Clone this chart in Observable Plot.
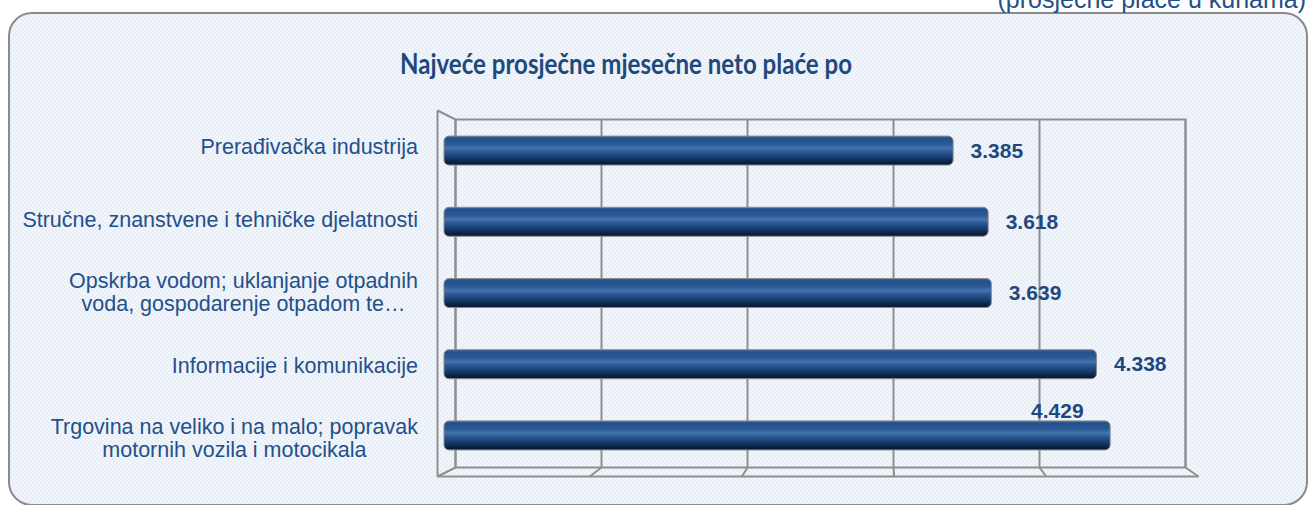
<!DOCTYPE html>
<html>
<head>
<meta charset="utf-8">
<script src="https://cdn.jsdelivr.net/npm/d3@7"></script>
<script src="https://cdn.jsdelivr.net/npm/@observablehq/plot@0.6"></script>
<style>
  html, body { margin: 0; padding: 0; background: #ffffff; }
  #wrap { position: relative; width: 1308px; height: 505px; overflow: hidden; font-family: "Liberation Sans", Arial, sans-serif; }
  #panel { position: absolute; left: 8px; top: 12px; width: 1300px; height: 494px; box-sizing: border-box;
           border: 2px solid #8a8a8a; border-radius: 24px; background-color: #eef3fa;
           background-image: repeating-conic-gradient(#e8eef7 0 25%, #f2f6fb 0 50%); background-size: 4px 4px; }
  #unit { position: absolute; right: 2px; top: -13px; font-size: 25px; line-height: 25px; color: #24508a; white-space: nowrap; }
  #title { position: absolute; left: 0; width: 1252px; top: 45px; text-align: center; font: bold 29px/36px Lato, "Open Sans", sans-serif; color: #1f497d; white-space: nowrap; transform: scaleX(0.83); transform-origin: 626px 50%; }
  #wrap svg { position: absolute; left: 0; top: 0; }
  .cat { position: absolute; right: 890px; text-align: center; font-size: 21.5px; line-height: 23px; color: #24508a; white-space: pre; transform: translateY(-50%); }
</style>
</head>
<body>
<div id="wrap">
  <div id="panel"></div>
  <div id="unit">(prosječne plaće u kunama)</div>
  <div id="title">Najveće prosječne mjesečne neto plaće po</div>
</div>
<script>
// ---- data ----
const categories = [
  "Prerađivačka industrija",
  "Stručne, znanstvene i tehničke djelatnosti",
  "Opskrba vodom; uklanjanje otpadnih\nvoda, gospodarenje otpadom te…",
  "Informacije i komunikacije",
  "Trgovina na veliko i na malo; popravak\nmotornih vozila i motocikala"
];
const values = [3385, 3618, 3639, 4338, 4429];
const valueLabels = ["3.385", "3.618", "3.639", "4.338", "4.429"];
const xTicks = [0, 1000, 2000, 3000, 4000, 5000];

const data = categories.map((c, i) => ({cat: c, value: values[i], label: valueLabels[i], i}));

// ---- layout ----
const W = 1308, H = 505;
const back = {left: 455, right: 1185, top: 119, bottom: 467};   // back wall of 3D box
const front = {left: 437, right: 1198, top: 110, bottom: 476};  // front plane of 3D box
const barPlane = {left: 444, right: 1196, top: 115, bottom: 471};
const gridColor = "#8e8e8e";
const textBlue = "#1f497d";

const wrap = document.getElementById("wrap");

// ---- 3D box (back wall grid + front edges) ----
const xBack = Plot.scale({x: {domain: [0, 5000], range: [back.left, back.right]}});
const xFront = Plot.scale({x: {domain: [0, 5000], range: [front.left, front.right]}});
const yBack = Plot.scale({y: {domain: [0, 1], range: [back.bottom, back.top]}});
const toBack = v => xBack.invert(xFront.apply(v));
const yFB = yBack.invert(front.bottom), yFT = yBack.invert(front.top);

const slants = xTicks.map(v => ({x1: v, y1: 0, x2: toBack(v), y2: yFB}));
const edges = [
  {x1: toBack(0), y1: yFB, x2: toBack(5000), y2: yFB},
  {x1: toBack(0), y1: yFB, x2: toBack(0), y2: yFT},
  {x1: toBack(0), y1: yFT, x2: 0, y2: 1}
];

const boxPlot = Plot.plot({
  width: W, height: H,
  marginLeft: back.left, marginRight: W - back.right,
  marginTop: back.top, marginBottom: H - back.bottom,
  style: {background: "transparent", overflow: "visible"},
  x: {domain: [0, 5000], axis: null},
  y: {domain: [0, 1], axis: null},
  marks: [
    Plot.ruleX(xTicks, {stroke: gridColor, strokeWidth: 2}),
    Plot.frame({stroke: gridColor, strokeWidth: 2}),
    Plot.link(slants, {x1: "x1", y1: "y1", x2: "x2", y2: "y2", stroke: gridColor, strokeWidth: 2}),
    Plot.link(edges, {x1: "x1", y1: "y1", x2: "x2", y2: "y2", stroke: gridColor, strokeWidth: 2})
  ]
});
wrap.appendChild(boxPlot);

// ---- bars ----
function gradientDefs() {
  const defs = d3.create("svg:defs");
  const g = defs.append("linearGradient").attr("id", "barGrad")
    .attr("x1", 0).attr("y1", 0).attr("x2", 0).attr("y2", 1);
  [[0, "#3a67a3"], [0.08, "#22508b"], [0.28, "#2b5a97"], [0.42, "#4473b0"], [0.53, "#2c5a96"],
   [0.75, "#163a6b"], [0.92, "#0b1f3e"], [1, "#08172f"]]
    .forEach(([o, c]) => g.append("stop").attr("offset", o).attr("stop-color", c));
  return defs.node();
}

const barPlot = Plot.plot({
  width: W, height: H,
  marginLeft: barPlane.left, marginRight: W - barPlane.right,
  marginTop: barPlane.top, marginBottom: H - barPlane.bottom,
  style: {background: "transparent", overflow: "visible"},
  x: {domain: [0, 5000], axis: null},
  y: {domain: categories, axis: null, paddingInner: 0.593, paddingOuter: 0.296, round: false},
  marks: [
    gradientDefs,
    Plot.barX(data, {x: "value", y: "cat", fill: "url(#barGrad)", stroke: "#8a8a8a", strokeWidth: 1, rx: 5}),
    Plot.text(data.filter(d => d.i < 4), {x: "value", y: "cat", text: "label", textAnchor: "start", dx: 17,
      fontSize: 21, fontWeight: "bold", fill: textBlue, fontFamily: "Liberation Sans, Arial, sans-serif"}),
    Plot.text(data.filter(d => d.i === 4), {x: "value", y: "cat", text: "label", textAnchor: "end", dx: -27, dy: -25,
      fontSize: 21, fontWeight: "bold", fill: textBlue, fontFamily: "Liberation Sans, Arial, sans-serif"})
  ]
});
wrap.appendChild(barPlot);

// ---- category labels (front plane of the 3D box) ----
const yLabel = Plot.scale({y: {type: "band", domain: categories, range: [front.top, front.bottom],
  paddingInner: 0.593, paddingOuter: 0.296}});
categories.forEach(c => {
  const div = document.createElement("div");
  div.className = "cat";
  div.textContent = c;
  div.style.top = (yLabel.apply(c) + yLabel.bandwidth / 2) + "px";
  wrap.appendChild(div);
});
</script>
</body>
</html>
